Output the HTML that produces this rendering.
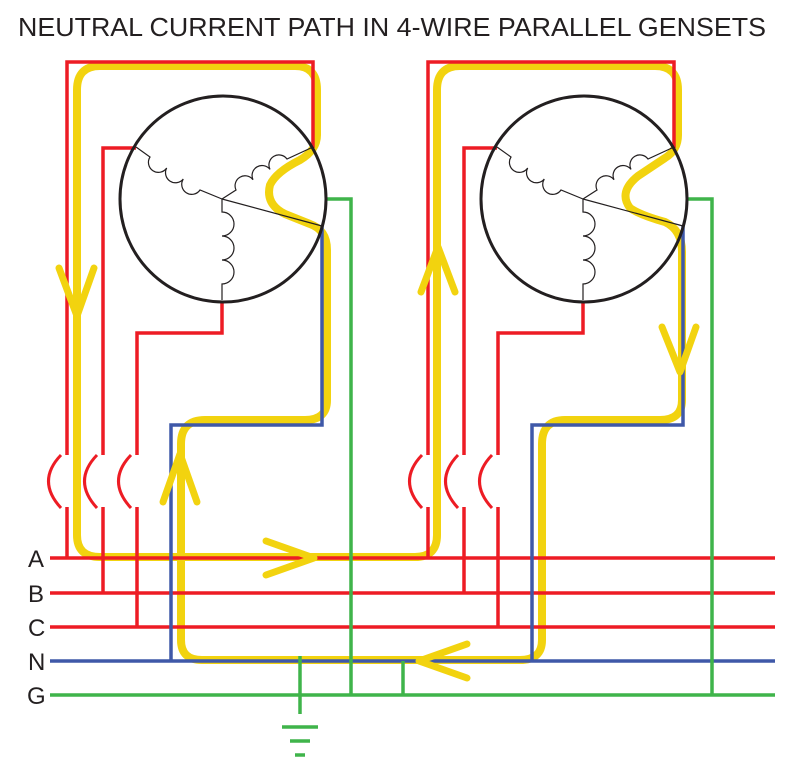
<!DOCTYPE html>
<html><head><meta charset="utf-8"><style>
html,body{margin:0;padding:0;background:#fff;}
svg{display:block;}
</style></head><body>
<svg width="812" height="771" viewBox="0 0 812 771" xmlns="http://www.w3.org/2000/svg">
<text x="18" y="36" font-family="Liberation Sans, sans-serif" font-size="26" fill="#231f20" textLength="748" lengthAdjust="spacingAndGlyphs">NEUTRAL CURRENT PATH IN 4-WIRE PARALLEL GENSETS</text>

<path d="M437,535 V90 Q437,66 460,66 H655 Q678,66 678,90 V135 Q678,150 665,158 L638,176 Q618,192 630,208 Q640,215 665,222 Q682,230 682,252 V400 Q682,420 660,420 H565 Q542,420 542,444 V640 Q542,660 520,660 H202 Q181,660 181,640 V444 Q181,420 205,420 H305 Q327,420 327,400 L327,250 Q327,230 310,224 L285,214 Q265,204 270,185 Q276,172 300,160 Q317,150 317,135 V90 Q317,66 295,66 H100 Q77,66 77,90 V535 Q77,557 100,557 H415 Q437,557 437,535 Z" fill="none" stroke="#f2d30f" stroke-width="8" stroke-linejoin="round"/>

<g fill="none" stroke-width="3.5">
<line x1="50" y1="558" x2="775" y2="558" stroke="#ed1c24"/>
<line x1="50" y1="593" x2="775" y2="593" stroke="#ed1c24"/>
<line x1="50" y1="627" x2="775" y2="627" stroke="#ed1c24"/>
<line x1="50" y1="661" x2="775" y2="661" stroke="#3f58a8"/>
<line x1="50" y1="695" x2="775" y2="695" stroke="#3fb44a"/>
<line x1="300" y1="656" x2="300" y2="714" stroke="#3fb44a"/>
<line x1="282" y1="727" x2="318" y2="727" stroke="#3fb44a"/>
<line x1="290" y1="741" x2="310" y2="741" stroke="#3fb44a"/>
<line x1="295" y1="755" x2="305" y2="755" stroke="#3fb44a"/>
<line x1="403" y1="661" x2="403" y2="695" stroke="#3fb44a"/>
</g>

<g id="gen">
<g fill="none" stroke-width="3.5">
<path d="M67,558 V507 M67,455 V62 H313 V148" stroke="#ed1c24"/>
<path d="M103,593 V507 M103,455 V148 H136" stroke="#ed1c24"/>
<path d="M137,627 V507 M137,455 V333 H222 V302" stroke="#ed1c24"/>
<path d="M61,455 Q36,481 61,508" stroke="#ed1c24" stroke-width="3"/>
<path d="M97,455 Q72,481 97,508" stroke="#ed1c24" stroke-width="3"/>
<path d="M131,455 Q106,481 131,508" stroke="#ed1c24" stroke-width="3"/>
<path d="M322,225 V425 H171 V661" stroke="#3f58a8"/>
<path d="M326,199 H351 V695" stroke="#3fb44a"/>
</g>
<circle cx="223" cy="199" r="103" fill="none" stroke="#231f20" stroke-width="3"/>
<g fill="none" stroke="#231f20" stroke-width="1.2">
<path d="M136,147 L150,157 A10,10 0 0 0 166.7,168 A10,10 0 0 0 183.3,179 A10,10 0 0 0 200,190 L222,199"/>
<path d="M222,199 L236,190 A10,10 0 0 1 253,179.7 A10,10 0 0 1 270,169.4 A10,10 0 0 1 287,159 L313,147"/>
<path d="M222,199 V212 A12,12 0 0 1 222,236 A12,12 0 0 1 222,260 A12,12 0 0 1 222,284 V300"/>
<path d="M222,199 L322,226"/>
</g>
</g>
<use href="#gen" transform="translate(361,0)"/>

<g fill="none" stroke="#f2d30f" stroke-width="7" stroke-linecap="round" stroke-linejoin="round">
<path d="M59,268 L77,316 L94,268"/>
<path d="M163,502 L180,454 L197,502"/>
<path d="M266,541 L314,558 L266,575"/>
<path d="M421,292 L438,247 L455,292"/>
<path d="M662,327 L680,372 L696,327"/>
<path d="M467,644 L419,661 L467,678"/>
</g>

<g font-family="Liberation Sans, sans-serif" font-size="24" fill="#231f20">
<text x="28" y="567">A</text>
<text x="28" y="602">B</text>
<text x="28" y="636">C</text>
<text x="28" y="670">N</text>
<text x="27" y="704">G</text>
</g>
</svg>
</body></html>
